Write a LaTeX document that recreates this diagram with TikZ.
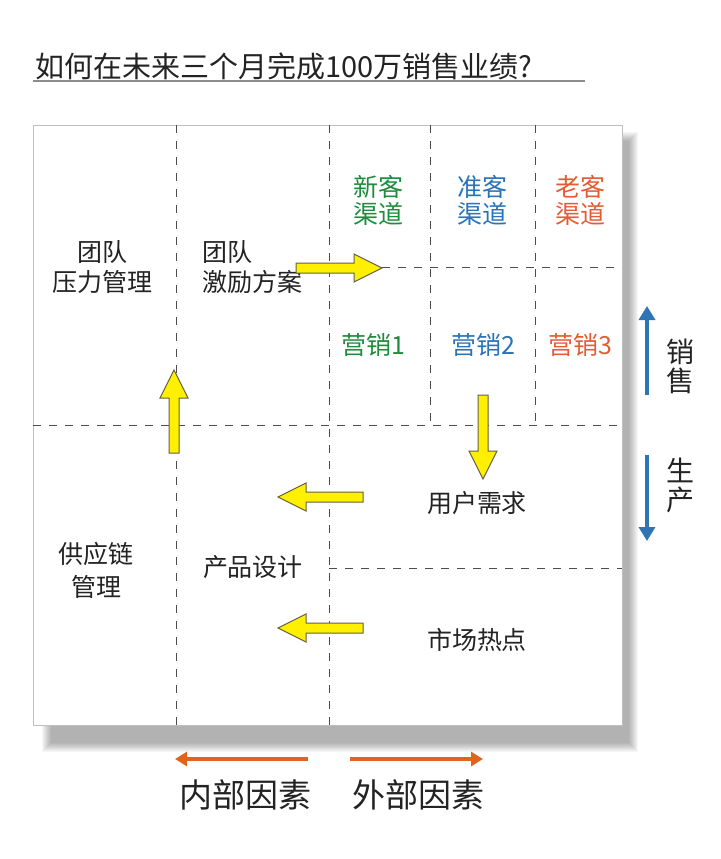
\documentclass[tikz,border=0pt]{standalone}
\usepackage{fontspec}
\setmainfont{Noto Sans CJK SC}
\usetikzlibrary{arrows.meta}
\definecolor{xingreen}{RGB}{30,140,60}
\definecolor{zhunblue}{RGB}{40,115,185}
\definecolor{laored}{RGB}{228,92,52}
\definecolor{arrowyellow}{RGB}{255,240,0}
\definecolor{sideblue}{RGB}{46,117,182}
\definecolor{sideorange}{RGB}{224,100,30}
\definecolor{inkgray}{RGB}{35,35,35}
\tikzset{
	txt/.style={text=inkgray, align=center, font=\fontsize{12.5}{15}\selectfont},
	grid/.style={line width=0.5pt, color=black!70, dash pattern=on 4 off 4},
	yarrow/.style={line width=0.5pt, draw=black!70!yellow, fill=arrowyellow},
	sidearrow/.style={line width=2.4pt, color=sideblue, -{Triangle[length=7pt,width=8pt]}},
	bottomarrow/.style={line width=2pt, color=sideorange, -{Triangle[length=6pt,width=7pt]}}
}
\def\yblock(#1,#2)(#3:#4){\draw[yarrow,shift={(#1,#2)},rotate=#3] (0,-5) -- ({#4-28},-5) -- ({#4-28},-14) -- (#4,0) -- ({#4-28},14) -- ({#4-28},5) -- (0,5) -- cycle;}

\begin{document}
\begin{tikzpicture}[x=0.5pt, y=-0.5pt]
		%%%%% START %%%%%
		\useasboundingbox (0,0) rectangle (720,859);
		
		\node[anchor=west, inner sep=0, text=inkgray, font=\fontsize{14.5}{16}\selectfont] (title) at (35,66) {如何在未来三个月完成100万销售业绩?};
		\draw[line width=0.6pt, color=black!45] (33,81) -- (585,81);
		
		% shadow + board
		\foreach \i in {0,...,9}
			\fill[black, opacity=0.035] ({42+\i},{132+\i}) rectangle ({638-\i},{752-\i});
		\draw[fill=white, line width=0.4pt, draw=black!25] (33,125) rectangle (622,725);
		
		\draw[grid] (176,125) -- (176,725);
		\draw[grid] (329,125) -- (329,725);
		\draw[grid] (430,125) -- (430,425);
		\draw[grid] (535,125) -- (535,425);
		\draw[grid] (33,425) -- (622,425);
		\draw[grid] (382,267) -- (622,267);
		\draw[grid] (329,568) -- (622,568);
		
		\node[txt] (yali) at (103,267) {团队\\压力管理};
		\node[txt, align=left, anchor=west] (jili) at (195,267) {团队\\激励方案};
		\node[txt, text=xingreen, font=\fontsize{12.5}{13.5}\selectfont] (xinke) at (378,200) {新客\\渠道};
		\node[txt, text=zhunblue, font=\fontsize{12.5}{13.5}\selectfont] (zhunke) at (482,200) {准客\\渠道};
		\node[txt, text=laored, font=\fontsize{12.5}{13.5}\selectfont] (laoke) at (580,200) {老客\\渠道};
		\node[txt, text=xingreen] (yx1) at (373,345) {营销1};
		\node[txt, text=zhunblue] (yx2) at (483,345) {营销2};
		\node[txt, text=laored] (yx3) at (580,345) {营销3};
		\node[txt] (xuqiu) at (477,503) {用户需求};
		\node[txt] (redian) at (477,640) {市场热点};
		\node[txt] (sheji) at (253,567) {产品设计};
		\node[txt, font=\fontsize{12.5}{16.5}\selectfont] (gongying) at (96,570) {供应链\\管理};
		
		\yblock(296,268)(0:86);
		\yblock(174,453)(90:83);
		\yblock(483,395)(-90:84);
		\yblock(363,497)(180:85);
		\yblock(363,628)(180:85);
		
		% right side
		\coordinate (xs1) at (647,395);
		\coordinate (xs2) at (647,306);
		\coordinate (sc1) at (647,455);
		\coordinate (sc2) at (647,541);
		\draw[sidearrow] (xs1) -- (xs2);
		\draw[sidearrow] (sc1) -- (sc2);
		\node[txt, font=\fontsize{14}{14.5}\selectfont] (xiaoshou) at (680,366) {销\\售};
		\node[txt, font=\fontsize{14}{14.5}\selectfont] (shengchan) at (680,485) {生\\产};
		
		% bottom
		\coordinate (nb1) at (308,759);
		\coordinate (nb2) at (175,759);
		\coordinate (wb1) at (350,759);
		\coordinate (wb2) at (483,759);
		\draw[bottomarrow] (nb1) -- (nb2);
		\draw[bottomarrow] (wb1) -- (wb2);
		\node[txt, font=\fontsize{16.5}{18}\selectfont] (neibu) at (245,795) {内部因素};
		\node[txt, font=\fontsize{16.5}{18}\selectfont] (waibu) at (418,795) {外部因素};
		%%%%% END %%%%%
\end{tikzpicture}
\end{document}
